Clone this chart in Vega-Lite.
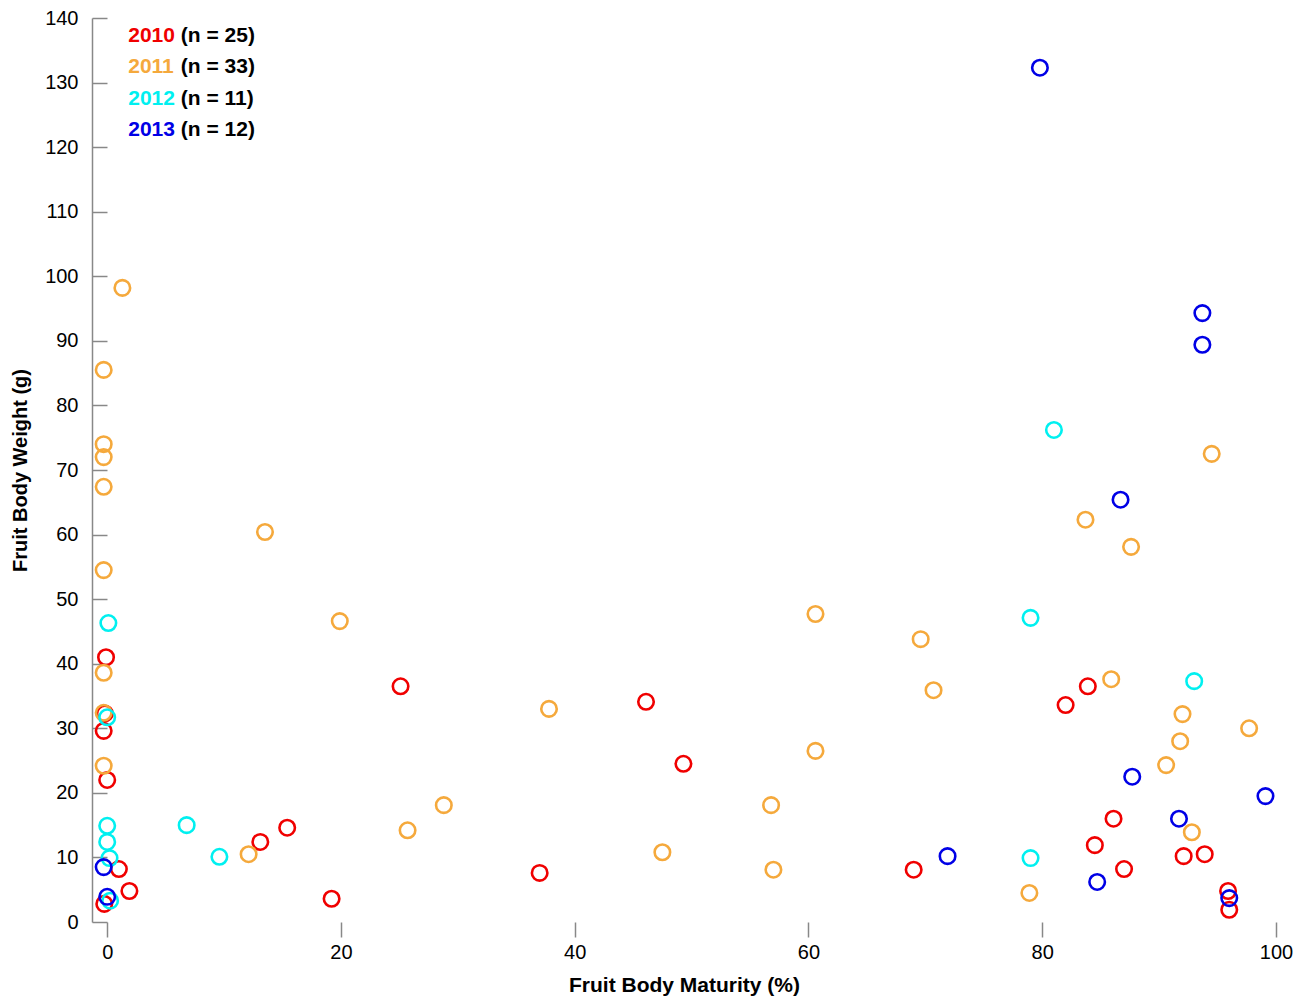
{
  "$schema": "https://vega.github.io/schema/vega-lite/v6.json",
  "autosize": {"type": "none"},
  "padding": {"left": 92, "top": 18, "right": 34, "bottom": 75},
  "width": 1184,
  "height": 904,
  "background": "white",
  "config": {
    "view": {"stroke": null},
    "font": "Liberation Sans",
    "axis": {"grid": false, "labelFont": "Liberation Sans", "titleFont": "Liberation Sans", "labelColor": "black", "titleColor": "black"}
  },
  "datasets": {
    "points": [
      {"year": "2010", "maturity": -0.1, "weight": 41.0},
      {"year": "2010", "maturity": -0.2, "weight": 32.3},
      {"year": "2010", "maturity": -0.3, "weight": 29.6},
      {"year": "2010", "maturity": 0.0, "weight": 22.0},
      {"year": "2010", "maturity": 1.0, "weight": 8.2},
      {"year": "2010", "maturity": 1.9, "weight": 4.8},
      {"year": "2010", "maturity": -0.25, "weight": 2.8},
      {"year": "2010", "maturity": 13.1, "weight": 12.4},
      {"year": "2010", "maturity": 15.4, "weight": 14.6},
      {"year": "2010", "maturity": 19.2, "weight": 3.6},
      {"year": "2010", "maturity": 25.1, "weight": 36.5},
      {"year": "2010", "maturity": 37.0, "weight": 7.6},
      {"year": "2010", "maturity": 46.1, "weight": 34.1},
      {"year": "2010", "maturity": 49.3, "weight": 24.5},
      {"year": "2010", "maturity": 69.0, "weight": 8.1},
      {"year": "2010", "maturity": 82.0, "weight": 33.6},
      {"year": "2010", "maturity": 83.9, "weight": 36.5},
      {"year": "2010", "maturity": 86.1, "weight": 16.0},
      {"year": "2010", "maturity": 84.5, "weight": 11.9},
      {"year": "2010", "maturity": 87.0, "weight": 8.2},
      {"year": "2010", "maturity": 92.1, "weight": 10.2},
      {"year": "2010", "maturity": 93.9, "weight": 10.5},
      {"year": "2010", "maturity": 95.9, "weight": 4.8},
      {"year": "2010", "maturity": 96.0, "weight": 1.9},
      {"year": "2011", "maturity": 1.3, "weight": 98.2},
      {"year": "2011", "maturity": -0.3, "weight": 85.5},
      {"year": "2011", "maturity": -0.3, "weight": 74.0},
      {"year": "2011", "maturity": -0.3, "weight": 72.0},
      {"year": "2011", "maturity": -0.3, "weight": 67.4},
      {"year": "2011", "maturity": -0.3, "weight": 54.5},
      {"year": "2011", "maturity": -0.3, "weight": 38.6},
      {"year": "2011", "maturity": -0.3, "weight": 32.4},
      {"year": "2011", "maturity": -0.3, "weight": 24.2},
      {"year": "2011", "maturity": 12.1, "weight": 10.5},
      {"year": "2011", "maturity": 13.5, "weight": 60.4},
      {"year": "2011", "maturity": 19.9, "weight": 46.6},
      {"year": "2011", "maturity": 25.7, "weight": 14.2},
      {"year": "2011", "maturity": 28.8, "weight": 18.1},
      {"year": "2011", "maturity": 37.8, "weight": 33.0},
      {"year": "2011", "maturity": 47.5, "weight": 10.8},
      {"year": "2011", "maturity": 56.8, "weight": 18.1},
      {"year": "2011", "maturity": 57.0, "weight": 8.1},
      {"year": "2011", "maturity": 60.6, "weight": 47.7},
      {"year": "2011", "maturity": 60.6, "weight": 26.5},
      {"year": "2011", "maturity": 69.6, "weight": 43.8},
      {"year": "2011", "maturity": 70.7, "weight": 35.9},
      {"year": "2011", "maturity": 78.9, "weight": 4.5},
      {"year": "2011", "maturity": 83.7, "weight": 62.3},
      {"year": "2011", "maturity": 87.6, "weight": 58.1},
      {"year": "2011", "maturity": 85.9, "weight": 37.6},
      {"year": "2011", "maturity": 94.5, "weight": 72.5},
      {"year": "2011", "maturity": 92.0, "weight": 32.2},
      {"year": "2011", "maturity": 91.8, "weight": 28.0},
      {"year": "2011", "maturity": 90.6, "weight": 24.3},
      {"year": "2011", "maturity": 97.7, "weight": 30.0},
      {"year": "2011", "maturity": 92.8, "weight": 13.9},
      {"year": "2012", "maturity": 0.1, "weight": 46.3},
      {"year": "2012", "maturity": 0.0, "weight": 31.7},
      {"year": "2012", "maturity": 0.0, "weight": 14.9},
      {"year": "2012", "maturity": 0.0, "weight": 12.4},
      {"year": "2012", "maturity": 0.2, "weight": 9.9},
      {"year": "2012", "maturity": 0.25, "weight": 3.3},
      {"year": "2012", "maturity": 6.8, "weight": 15.0},
      {"year": "2012", "maturity": 9.6, "weight": 10.1},
      {"year": "2012", "maturity": 79.0, "weight": 47.1},
      {"year": "2012", "maturity": 81.0, "weight": 76.2},
      {"year": "2012", "maturity": 93.0, "weight": 37.3},
      {"year": "2012", "maturity": 79.0, "weight": 9.9},
      {"year": "2013", "maturity": -0.3, "weight": 8.5},
      {"year": "2013", "maturity": 0.0, "weight": 3.9},
      {"year": "2013", "maturity": 71.9, "weight": 10.2},
      {"year": "2013", "maturity": 79.8, "weight": 132.3},
      {"year": "2013", "maturity": 93.7, "weight": 94.3},
      {"year": "2013", "maturity": 93.7, "weight": 89.4},
      {"year": "2013", "maturity": 86.7, "weight": 65.4},
      {"year": "2013", "maturity": 87.7, "weight": 22.5},
      {"year": "2013", "maturity": 99.1, "weight": 19.5},
      {"year": "2013", "maturity": 91.7, "weight": 16.0},
      {"year": "2013", "maturity": 84.7, "weight": 6.2},
      {"year": "2013", "maturity": 96.0, "weight": 3.7}
    ],
    "legend": [
      {"year": "2010", "label": "(n = 25)"},
      {"year": "2011", "label": "(n = 33)"},
      {"year": "2012", "label": "(n = 11)"},
      {"year": "2013", "label": "(n = 12)"}
    ]
  },
  "layer": [
    {
      "data": {"name": "points"},
      "mark": {"type": "point", "shape": "circle", "filled": false, "size": 240, "strokeWidth": 2.6, "opacity": 1},
      "encoding": {
        "x": {"field": "maturity", "type": "quantitative",
              "scale": {"domain": [-1.3, 100], "nice": false, "zero": false},
              "axis": {"values": [0, 20, 40, 60, 80, 100], "domain": false, "tickSize": 15, "tickColor": "#888888", "tickWidth": 1.5,
                       "labelFlush": false, "labelFontSize": 20, "labelPadding": 5, "title": "Fruit Body Maturity (%)", "titleFontSize": 21, "titleFontWeight": "bold", "titlePadding": 12}},
        "y": {"field": "weight", "type": "quantitative",
              "scale": {"domain": [0, 140], "nice": false, "zero": true},
              "axis": {"values": [0, 10, 20, 30, 40, 50, 60, 70, 80, 90, 100, 110, 120, 130, 140], "domain": true, "domainColor": "#888888", "domainWidth": 1.5,
                       "tickSize": -15, "tickColor": "#888888", "tickWidth": 1.5,
                       "labelFlush": false, "labelFontSize": 20, "labelPadding": 29, "title": "Fruit Body Weight (g)", "titleFontSize": 20, "titleFontWeight": "bold", "titlePadding": 14}},
        "color": {"field": "year", "type": "nominal",
                  "scale": {"domain": ["2010", "2011", "2012", "2013"], "range": ["#f00000", "#f5a93c", "#00f0f0", "#0000e6"]},
                  "legend": null}
      }
    },
    {
      "data": {"name": "legend"},
      "mark": {"type": "text", "align": "left", "baseline": "middle", "fontSize": 21, "fontWeight": "bold", "font": "Liberation Sans"},
      "encoding": {
        "x": {"datum": 1.8, "type": "quantitative"},
        "y": {"field": "year", "type": "ordinal", "scale": {"type": "point", "range": [18, 112], "padding": 0}, "axis": null},
        "text": {"field": "year"},
        "color": {"field": "year", "type": "nominal", "legend": null}
      }
    },
    {
      "data": {"name": "legend"},
      "mark": {"type": "text", "align": "left", "baseline": "middle", "fontSize": 21, "fontWeight": "bold", "font": "Liberation Sans", "color": "black"},
      "encoding": {
        "x": {"datum": 6.3, "type": "quantitative"},
        "y": {"field": "year", "type": "ordinal", "scale": {"type": "point", "range": [18, 112], "padding": 0}, "axis": null},
        "text": {"field": "label"}
      }
    }
  ],
  "resolve": {"scale": {"y": "independent"}}
}
